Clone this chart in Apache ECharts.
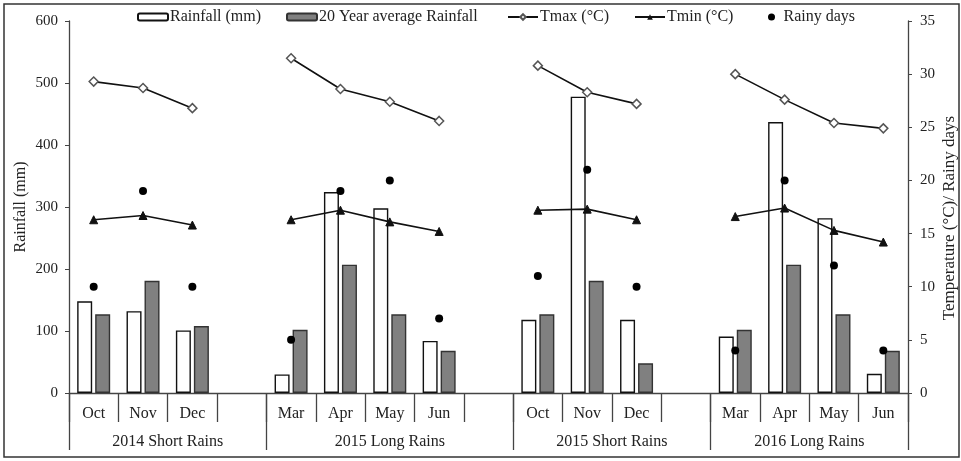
<!DOCTYPE html>
<html>
<head>
<meta charset="utf-8">
<script src="https://cdn.jsdelivr.net/npm/echarts@6/dist/echarts.min.js"></script>
<style>
  html, body { margin: 0; padding: 0; background: #fff; }
  #chart { width: 961px; height: 461px; }
</style>
</head>
<body>
<div id="chart"></div>
<script>
// 17 slots along the bottom, blank slots keep the seasons apart
const months = ['Oct', 'Nov', 'Dec', '', 'Mar', 'Apr', 'May', 'Jun', '', 'Oct', 'Nov', 'Dec', '', 'Mar', 'Apr', 'May', 'Jun'];
const seasons = ['2014 Short Rains', '2015 Long Rains', '2015 Short Rains', '2016 Long Rains'];

const rainfall = [148, 132, 101, null, 30, 324, 298, 84, null, 118, 478, 118, null, 91, 437, 282, 31];
const avgRainfall = [127, 181, 108, null, 102, 207, 127, 68, null, 127, 181, 48, null, 102, 207, 127, 68];
const tmax = [29.3, 28.7, 26.8, null, 31.5, 28.6, 27.4, 25.6, null, 30.8, 28.3, 27.2, null, 30.0, 27.6, 25.4, 24.9];
const tmin = [16.3, 16.7, 15.8, null, 16.3, 17.2, 16.1, 15.2, null, 17.2, 17.3, 16.3, null, 16.6, 17.4, 15.3, 14.2];
const rainyDays = [10, 19, 10, null, 5, 19, 20, 7, null, 11, 21, 10, null, 4, 20, 12, 4];

const rainTicks = [0, 100, 200, 300, 400, 500, 600];
const tempTicks = [0, 5, 10, 15, 20, 25, 30, 35];

// second level axis: half-slot points, season boundaries and season centres
const seasonBounds = [0, 8, 18, 26, 34];
const seasonCentres = [4, 13, 22, 30];
const halfSlots = [];
for (let k = 0; k <= 34; k++) {
  const c = seasonCentres.indexOf(k);
  halfSlots.push(c >= 0 ? seasons[c] : '');
}

const font = 'Liberation Serif';
const ink = '#222';
const axisGrey = '#444';

// one legend per entry so each sits where the original puts it
function legendAt(name, left, opts) {
  return Object.assign({
    data: [name],
    left: left,
    top: 9,
    padding: 0,
    itemWidth: 30,
    itemHeight: 7,
    textStyle: {fontFamily: font, fontSize: 16, color: ink, padding: [0, 0, 0, -3]}
  }, opts || {});
}

const chart = echarts.init(document.getElementById('chart'));
chart.setOption({
  animation: false,
  textStyle: {fontFamily: font},
  graphic: [{
    type: 'rect',
    shape: {x: 4, y: 4, width: 955, height: 453},
    style: {fill: 'none', stroke: '#333', lineWidth: 1.5},
    silent: true
  }],
  legend: [
    legendAt('Rainfall (mm)', 137),
    legendAt('20 Year average Rainfall', 286),
    legendAt('Tmax (°C)', 507),
    legendAt('Tmin (°C)', 634),
    legendAt('Rainy days', 768, {
      itemWidth: 10,
      textStyle: {fontFamily: font, fontSize: 16, color: ink, padding: [0, 0, 0, 2]}
    })
  ],
  grid: {left: 69, right: 53, top: 21, bottom: 68, outerBoundsMode: 'none', containLabel: false},
  xAxis: [
    {
      type: 'category',
      data: months,
      boundaryGap: true,
      axisLine: {lineStyle: {color: axisGrey, width: 1.3}},
      axisTick: {show: true, interval: 0, length: 29, lineStyle: {color: axisGrey, width: 1.3}},
      axisLabel: {interval: 0, margin: 13, fontSize: 16, color: ink, fontFamily: font}
    },
    {
      type: 'category',
      data: halfSlots,
      position: 'bottom',
      boundaryGap: false,
      axisLine: {show: false},
      axisTick: {
        show: true,
        interval: (i) => seasonBounds.indexOf(i) >= 0,
        length: 57,
        lineStyle: {color: axisGrey, width: 1.3}
      },
      axisLabel: {
        interval: (i) => seasonCentres.indexOf(i) >= 0,
        margin: 41,
        fontSize: 16,
        color: ink,
        fontFamily: font
      }
    }
  ],
  yAxis: [
    {
      type: 'value',
      name: 'Rainfall (mm)',
      nameLocation: 'middle',
      nameGap: 40,
      nameMoveOverlap: false,
      nameTextStyle: {fontSize: 16, color: ink, fontFamily: font},
      min: rainTicks[0],
      max: rainTicks[rainTicks.length - 1],
      interval: 100,
      splitLine: {show: false},
      axisLine: {show: true, lineStyle: {color: axisGrey, width: 1.3}},
      axisTick: {show: true, length: 4, lineStyle: {color: axisGrey}},
      axisLabel: {fontSize: 15, color: ink, fontFamily: font, margin: 11}
    },
    {
      type: 'value',
      name: 'Temperature (°C)/ Rainy days',
      nameLocation: 'middle',
      nameGap: 33,
      nameMoveOverlap: false,
      nameTextStyle: {fontSize: 17, color: ink, fontFamily: font, padding: [0, 22, 0, 0]},
      min: tempTicks[0],
      max: tempTicks[tempTicks.length - 1],
      interval: 5,
      splitLine: {show: false},
      axisLine: {show: true, lineStyle: {color: axisGrey, width: 1.3}},
      axisTick: {show: true, length: 4, lineStyle: {color: axisGrey}},
      axisLabel: {fontSize: 15, color: ink, fontFamily: font, margin: 12}
    }
  ],
  series: [
    {
      name: 'Rainfall (mm)',
      type: 'bar',
      data: rainfall,
      barWidth: 15,
      barGap: '20%',
      itemStyle: {color: '#fff', borderColor: '#111', borderWidth: 1.4}
    },
    {
      name: '20 Year average Rainfall',
      type: 'bar',
      data: avgRainfall,
      barWidth: 15,
      barGap: '20%',
      itemStyle: {color: '#808080', borderColor: '#333', borderWidth: 1.4}
    },
    {
      name: 'Tmax (°C)',
      type: 'line',
      yAxisIndex: 1,
      data: tmax,
      symbol: 'diamond',
      symbolSize: 9,
      connectNulls: false,
      lineStyle: {color: '#111', width: 1.6},
      itemStyle: {color: '#fff', borderColor: '#555', borderWidth: 1.5}
    },
    {
      name: 'Tmin (°C)',
      type: 'line',
      yAxisIndex: 1,
      data: tmin,
      symbol: 'triangle',
      symbolSize: 8,
      connectNulls: false,
      lineStyle: {color: '#111', width: 1.6},
      itemStyle: {color: '#111', borderColor: '#111'}
    },
    {
      name: 'Rainy days',
      type: 'scatter',
      yAxisIndex: 1,
      data: rainyDays,
      symbol: 'circle',
      symbolSize: 8,
      itemStyle: {color: '#000', opacity: 1}
    }
  ]
});
</script>
</body>
</html>
